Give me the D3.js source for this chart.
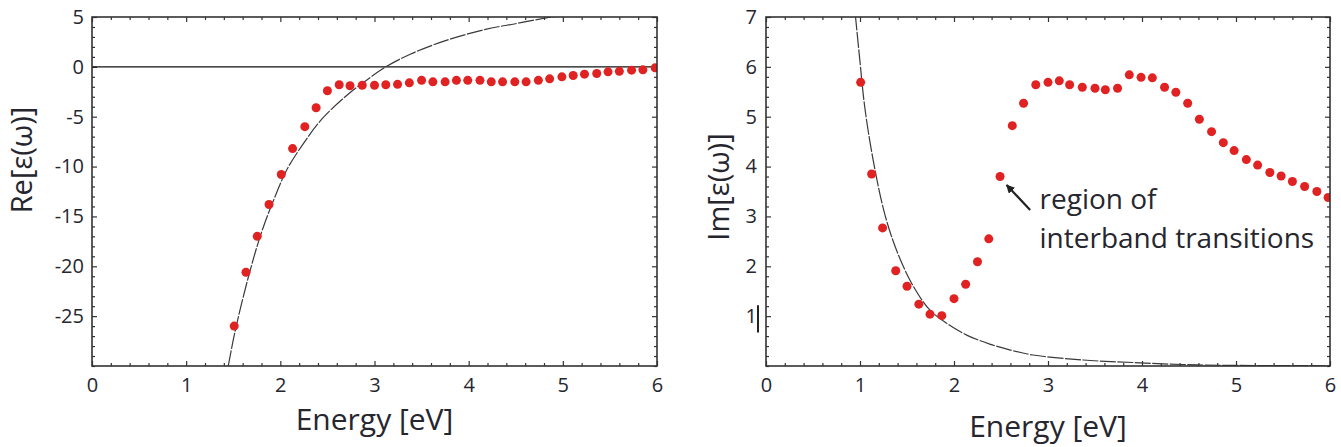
<!DOCTYPE html>
<html lang="en">
	<head>
		<meta charset="utf-8">
		<title>D3: dielectric function, Re and Im</title>
		<script src="https://d3js.org/d3.v7.min.js"></script>
		<style type="text/css">
			body { margin: 0; background: #fff; }
			text { font-family: "Open Sans", "Noto Sans", sans-serif; fill: #26262e; }
		</style>
	</head>
	<body>
		<script type="text/javascript">
			// measured points, Re part (left panel)
			var reEnergy = [1.51,1.635,1.755,1.88,2.01,2.13,2.26,2.38,2.50,2.625,2.74,2.87,3.00,3.12,3.245,3.37,3.50,3.62,3.75,3.87,3.99,4.12,4.24,4.36,4.49,4.61,4.74,4.86,4.99,5.11,5.23,5.36,5.48,5.60,5.73,5.85,5.98];
			var reEps = [-26.0,-20.6,-17.0,-13.8,-10.8,-8.2,-6.0,-4.1,-2.4,-1.8,-1.9,-1.85,-1.85,-1.8,-1.75,-1.6,-1.35,-1.5,-1.5,-1.35,-1.35,-1.35,-1.5,-1.5,-1.5,-1.5,-1.35,-1.2,-1.0,-0.87,-0.73,-0.67,-0.5,-0.45,-0.33,-0.3,-0.1];
			// model curve, Re part
			var reCurveE = [1.447,1.52,1.66,1.80,1.94,2.07,2.23,2.44,2.72,2.93,3.12,3.38,3.77,4.19,4.51,4.85,5.0];
			var reCurveV = [-30,-26.5,-21.1,-16.6,-13.1,-10.3,-7.9,-5.25,-2.74,-1.24,0.0,1.27,2.68,3.78,4.35,4.95,5.15];

			// measured points, Im part (right panel)
			var imEnergy = [1.007,1.124,1.24,1.38,1.50,1.626,1.745,1.87,2.0,2.124,2.25,2.37,2.49,2.62,2.74,2.87,3.0,3.12,3.23,3.365,3.5,3.61,3.74,3.865,3.99,4.11,4.24,4.36,4.486,4.61,4.74,4.865,4.98,5.11,5.23,5.36,5.48,5.60,5.73,5.86,5.98];
			var imEps = [5.69,3.85,2.77,1.91,1.6,1.24,1.04,1.01,1.35,1.64,2.09,2.55,3.80,4.82,5.27,5.64,5.69,5.72,5.64,5.59,5.57,5.54,5.57,5.84,5.79,5.78,5.59,5.49,5.27,4.95,4.70,4.48,4.32,4.14,4.03,3.88,3.81,3.70,3.60,3.50,3.38];
			// model curve, Im part
			var imCurveE = [0.95,1.0,1.05,1.14,1.27,1.41,1.57,1.745,1.92,2.135,2.38,2.6,2.84,3.375,3.9,4.43,4.97,6.0];
			var imCurveV = [7.05,6.1,5.2,4.13,3.0,2.22,1.59,1.12,0.86,0.62,0.44,0.32,0.22,0.12,0.07,0.03,0.012,0.005];

			// tick labels
			var xTicks = [0,1,2,3,4,5,6];
			var reTicks = [-25,-20,-15,-10,-5,0,5];
			var imTicks = [1,2,3,4,5,6,7];

			var annotLines = ["region of", "interband transitions"];

			var width = 1341, height = 447;
			var dotColor = "#e02222";
			var frameColor = "#333";

			var svg = d3.select("body").append("svg")
				.attr("width", width)
				.attr("height", height);

			function range(a, b, step){
				var out = [];
				for (var i = 0; Math.round((a + i*step)*1000)/1000 <= b; i++)
					out.push(Math.round((a + i*step)*1000)/1000);
				return out;
			}

			function minorOnly(all, major){
				return all.filter(function(v){
					return !major.some(function(m){ return Math.abs(m - v) < 1e-6; });
				});
			}

			function panel(opt){
				var x = d3.scaleLinear().domain([0, 6]).range([opt.left, opt.right]);
				var y = d3.scaleLinear().domain(opt.yDomain).range([opt.bottom, opt.top]);
				var g = svg.append("g");

				var xMinor = minorOnly(range(0, 6, 0.2), xTicks);
				var yMinor = minorOnly(range(opt.yDomain[0], opt.yDomain[1], opt.yMinorStep), opt.yTicks);

				var fmt = function(d){ return String(d); };

				// bottom: labelled majors + minors
				g.append("g").attr("transform", "translate(0," + opt.bottom + ")")
					.call(d3.axisBottom(x).tickValues(xTicks).tickSize(-5).tickSizeOuter(0).tickPadding(12).tickFormat(fmt))
					.call(function(s){ s.select(".domain").remove(); });
				g.append("g").attr("transform", "translate(0," + opt.bottom + ")")
					.call(d3.axisBottom(x).tickValues(xMinor).tickSize(-3).tickFormat(""))
					.call(function(s){ s.select(".domain").remove(); });
				// top
				g.append("g").attr("transform", "translate(0," + opt.top + ")")
					.call(d3.axisTop(x).tickValues(xTicks).tickSize(-5).tickFormat(""))
					.call(function(s){ s.select(".domain").remove(); });
				g.append("g").attr("transform", "translate(0," + opt.top + ")")
					.call(d3.axisTop(x).tickValues(xMinor).tickSize(-3).tickFormat(""))
					.call(function(s){ s.select(".domain").remove(); });
				// left
				g.append("g").attr("transform", "translate(" + opt.left + ",0)")
					.call(d3.axisLeft(y).tickValues(opt.yTicks).tickSize(-5).tickPadding(opt.yPad).tickFormat(fmt))
					.call(function(s){ s.select(".domain").remove(); });
				g.append("g").attr("transform", "translate(" + opt.left + ",0)")
					.call(d3.axisLeft(y).tickValues(yMinor).tickSize(-3).tickFormat(""))
					.call(function(s){ s.select(".domain").remove(); });
				// right
				g.append("g").attr("transform", "translate(" + opt.right + ",0)")
					.call(d3.axisRight(y).tickValues(opt.yTicks).tickSize(-5).tickFormat(""))
					.call(function(s){ s.select(".domain").remove(); });
				g.append("g").attr("transform", "translate(" + opt.right + ",0)")
					.call(d3.axisRight(y).tickValues(yMinor).tickSize(-3).tickFormat(""))
					.call(function(s){ s.select(".domain").remove(); });

				g.selectAll(".tick line").attr("stroke", frameColor).attr("stroke-width", 1.2);
				g.selectAll(".tick text")
					.attr("fill", "#26262e")
					.style("font-size", "20px")
					.style("font-family", "'Open Sans', sans-serif");

				var clipId = "clip" + opt.id;
				svg.append("clipPath").attr("id", clipId)
					.append("rect")
					.attr("x", opt.left).attr("y", opt.top)
					.attr("width", opt.right - opt.left).attr("height", opt.bottom - opt.top);

				var plot = g.append("g").attr("clip-path", "url(#" + clipId + ")");

				if (opt.zeroLine) {
					plot.append("line")
						.attr("x1", opt.left).attr("x2", opt.right)
						.attr("y1", y(0)).attr("y2", y(0))
						.attr("stroke", "#111")
						.attr("stroke-width", 1.4);
				}

				var line = d3.line()
					.x(function(d){ return x(d[0]); })
					.y(function(d){ return y(d[1]); })
					.curve(d3.curveCatmullRom);

				plot.append("path")
					.datum(d3.zip(opt.curveE, opt.curveV))
					.attr("d", line)
					.attr("fill", "none")
					.attr("stroke", "#3a3a3a")
					.attr("stroke-width", 1.2)
					.attr("stroke-dasharray", "16,1.5");

				plot.selectAll("circle")
					.data(d3.zip(opt.ptsE, opt.ptsV))
					.enter()
					.append("circle")
					.attr("cx", function(d){ return x(d[0]); })
					.attr("cy", function(d){ return y(d[1]); })
					.attr("r", 4.5)
					.attr("fill", dotColor);

				// frame
				g.append("rect")
					.attr("x", opt.left).attr("y", opt.top)
					.attr("width", opt.right - opt.left).attr("height", opt.bottom - opt.top)
					.attr("fill", "none")
					.attr("stroke", frameColor)
					.attr("stroke-width", 1.6);

				// axis labels
				g.append("text")
					.attr("x", (opt.left + opt.right) / 2)
					.attr("y", opt.xLabelY)
					.attr("text-anchor", "middle")
					.style("font-size", "30px")
					.text("Energy [eV]");

				g.append("text")
					.attr("transform", "translate(" + opt.yLabelX + "," + opt.yLabelY + ") rotate(-90)")
					.attr("text-anchor", "middle")
					.style("font-size", "29px")
					.text(opt.yLabel);

				return {x: x, y: y, g: g};
			}

			var left = panel({
				id: 1, left: 92, right: 657, top: 17, bottom: 366,
				yDomain: [-30, 5], yTicks: reTicks, yMinorStep: 1, yPad: 8,
				zeroLine: true,
				curveE: reCurveE, curveV: reCurveV,
				ptsE: reEnergy, ptsV: reEps,
				xLabelY: 430, yLabelX: 32, yLabelY: 160, yLabel: "Re[ε(ω)]"
			});

			var right = panel({
				id: 2, left: 766, right: 1330, top: 17, bottom: 366,
				yDomain: [0, 7], yTicks: imTicks, yMinorStep: 0.2, yPad: 9,
				zeroLine: false,
				curveE: imCurveE, curveV: imCurveV,
				ptsE: imEnergy, ptsV: imEps,
				xLabelY: 437, yLabelX: 729, yLabelY: 187, yLabel: "Im[ε(ω)]"
			});

			// stray bar next to the "1" label
			right.g.append("line")
				.attr("x1", 758).attr("x2", 758)
				.attr("y1", right.y(1.22)).attr("y2", right.y(0.67))
				.attr("stroke", "#222")
				.attr("stroke-width", 2);

			// annotation arrow + text
			svg.append("defs").append("marker")
				.attr("id", "arrowhead")
				.attr("viewBox", "0 0 10 10")
				.attr("refX", 9).attr("refY", 5)
				.attr("markerWidth", 4).attr("markerHeight", 4)
				.attr("orient", "auto")
				.append("path")
				.attr("d", "M0,0 L10,5 L0,10 z")
				.attr("fill", "#222");

			right.g.append("line")
				.attr("x1", right.x(2.81)).attr("y1", right.y(3.13))
				.attr("x2", right.x(2.56)).attr("y2", right.y(3.63))
				.attr("stroke", "#222")
				.attr("stroke-width", 2.2)
				.attr("marker-end", "url(#arrowhead)");

			right.g.selectAll(".annot")
				.data(annotLines)
				.enter()
				.append("text")
				.attr("class", "annot")
				.attr("x", right.x(2.91))
				.attr("y", function(d, i){ return right.y(3.15) + i * 39; })
				.style("font-size", "28px")
				.text(function(d){ return d; });
		</script>
	</body>
</html>
